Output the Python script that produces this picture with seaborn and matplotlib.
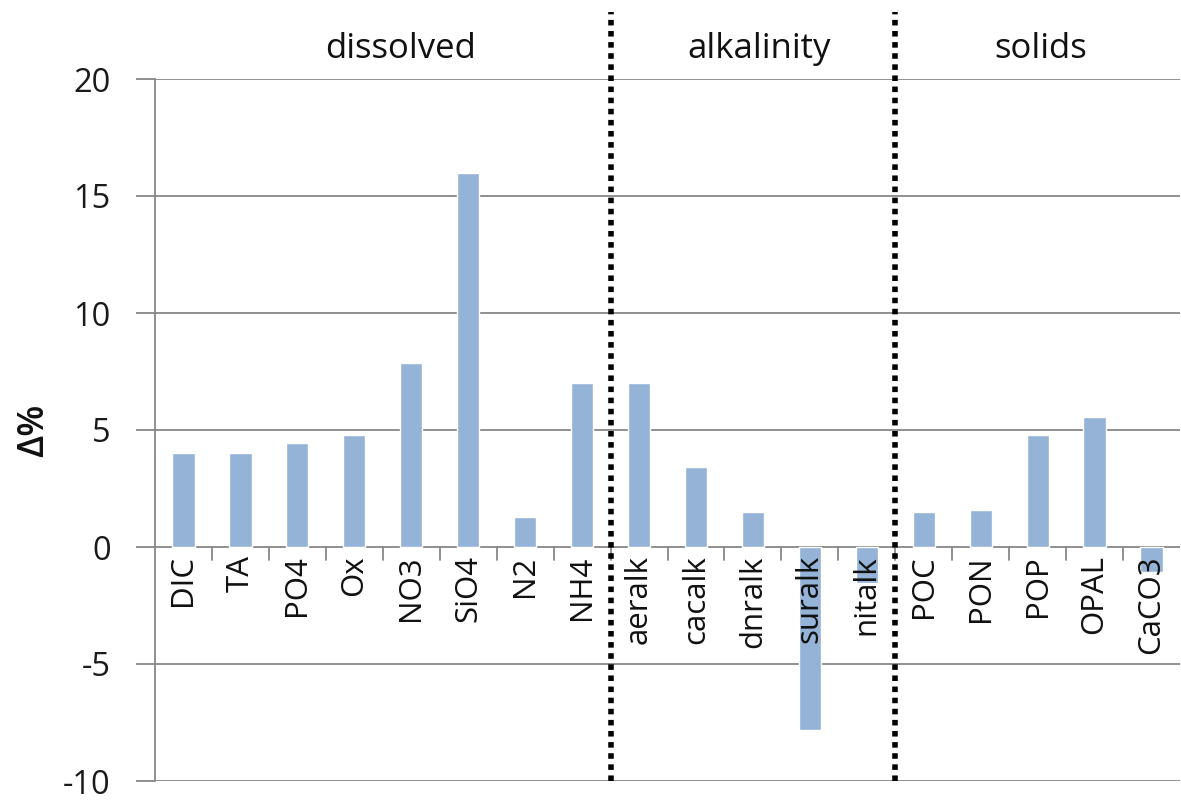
import numpy as np
import pandas as pd
import matplotlib
matplotlib.use("Agg")
import matplotlib.pyplot as plt
import seaborn as sns

# --- data ---
categories = ["DIC", "TA", "PO4", "Ox", "NO3", "SiO4", "N2", "NH4",
              "aeralk", "cacalk", "dnralk", "suralk", "nitalk",
              "POC", "PON", "POP", "OPAL", "CaCO3"]
delta_pct = [4.0, 4.0, 4.45, 4.8, 7.85, 16.0, 1.3, 7.0,
             7.0, 3.4, 1.5, -7.8, -1.55,
             1.5, 1.6, 4.8, 5.55, -1.05]
group_names = ["dissolved", "alkalinity", "solids"]
group_sizes = [8, 5, 5]
group_label_pos = [3.82, 10.1, 15.05]
y_ticks = [-10, -5, 0, 5, 10, 15, 20]

BAR_COLOR = "#95B3D7"
GRID_COLOR = "#878787"
FONT = ["Open Sans", "DejaVu Sans"]

sns.set_style("white")
plt.rcParams["font.family"] = FONT

df = pd.DataFrame({"cat": categories, "val": delta_pct})

fig = plt.figure(figsize=(11.81, 8.0), dpi=100)
ax = fig.add_axes([155 / 1181, 1 - 781 / 800, 1025 / 1181, 702 / 800])

sns.barplot(data=df, x="cat", y="val", color=BAR_COLOR, width=0.39,
            saturation=1, ax=ax, zorder=3)

ax.set_ylim(y_ticks[0], y_ticks[-1])
ax.set_xlim(-0.5, len(categories) - 0.5)
ax.set_yticks(y_ticks)
ax.set_yticklabels([str(t) for t in y_ticks], fontsize=23.5, color="#1a1a1a")
for t in y_ticks:
    ax.axhline(t, color=GRID_COLOR, lw=1.3, zorder=1)

ax.set_xticks([])
ax.set_xlabel("")
ax.set_ylabel("")
# y label placed in figure pixels so it stays inside the canvas
fig.text(34 / 1181, 1 - 430 / 800, "Δ%", rotation=90, ha="center", va="center",
         fontsize=26, fontweight="semibold", color="#111111")

for s in ["top", "right", "bottom"]:
    ax.spines[s].set_visible(False)
ax.spines["left"].set_color(GRID_COLOR)
ax.spines["left"].set_linewidth(1.3)
ax.tick_params(axis="y", length=14, color=GRID_COLOR, width=1.3, pad=18, left=True)

# small category boundary ticks below the zero line
for i in range(len(categories) - 1):
    ax.plot([i + 0.5, i + 0.5], [0, -0.55], color=GRID_COLOR, lw=1.3, zorder=2)

# category labels hanging below zero
for i, c in enumerate(categories):
    ax.text(i, -0.35, c, rotation=90, ha="center", va="top",
            fontsize=22.5, color="#111111", zorder=4)

# group separators and labels
bounds = np.cumsum(group_sizes)[:-1]
for b in bounds:
    ax.axvline(b - 0.5, ymin=0, ymax=1.095, color="black", lw=4,
               linestyle=(0, (1, 1)), clip_on=False, zorder=5)
for name, xpos in zip(group_names, group_label_pos):
    ax.text(xpos, 21.3, name, ha="center", va="center", fontsize=25,
            color="#111111")

fig.savefig("out.png", dpi=100)
